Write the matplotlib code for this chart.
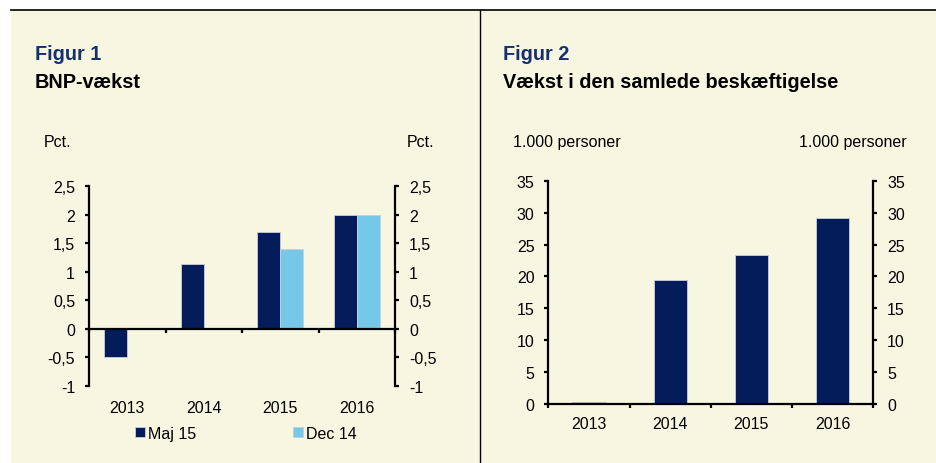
import numpy as np
import matplotlib
matplotlib.use("Agg")
from matplotlib import pyplot as plt
from matplotlib.patches import Rectangle
from matplotlib.lines import Line2D
from matplotlib.ticker import FuncFormatter, FixedLocator

# Data
years = ["2013", "2014", "2015", "2016"]
bnp_maj15 = [-0.49, 1.14, 1.7, 2.0]
bnp_dec14 = [np.nan, np.nan, 1.4, 2.0]
emp_growth = [0.35, 19.5, 23.35, 29.15]

# Style
cream = "#F7F7E1"
navy = "#041C5A"
light_blue = "#75C8E7"
title_blue = "#16306E"
edge = "#C9CEDC"

plt.rcParams["font.family"] = ["Liberation Sans", "DejaVu Sans"]
FS = 11.5
TFS = 14.3
plt.rcParams["font.size"] = FS

fig = plt.figure(figsize=(9.36, 4.64), dpi=100)
fig.patch.set_facecolor("white")

W, H = 936.0, 464.0
# cream panel, top rule, divider
fig.patches.append(Rectangle((11 / W, 0), 1 - 11 / W, 1 - 11 / H, transform=fig.transFigure,
                             facecolor=cream, edgecolor="none", zorder=-5))
fig.lines.append(Line2D([11 / W, 1], [1 - 11 / H, 1 - 11 / H], transform=fig.transFigure,
                        color="black", lw=1.2))
fig.lines.append(Line2D([480 / W, 480 / W], [0, 1 - 11 / H], transform=fig.transFigure,
                        color="black", lw=1.0))


def comma_fmt(v, pos):
    s = "{:g}".format(round(v, 2))
    return s.replace(".", ",")


def style_axis(ax, ymin, ymax, ystep, xpad):
    ax.set_facecolor("none")
    ax.set_ylim(ymin, ymax)
    ax.set_yticks(np.arange(ymin, ymax + ystep / 2, ystep))
    ax.set_xlim(-0.5, len(years) - 0.5)
    for s in ["left", "right", "bottom"]:
        ax.spines[s].set_linewidth(1.6)
    ax.spines["top"].set_visible(False)
    ax.tick_params(axis="y", which="both", left=True, right=True, labelleft=True,
                   labelright=True, direction="out", length=3, width=1.6, pad=7)
    ax.xaxis.set_major_locator(FixedLocator(np.arange(-0.5, len(years), 1.0)))
    ax.tick_params(axis="x", direction="out", length=3, width=1.6, labelbottom=False)
    sec = ax.secondary_xaxis("bottom")
    sec.set_xticks(np.arange(len(years)))
    sec.set_xticklabels(years)
    sec.tick_params(length=0, pad=xpad)
    sec.spines["bottom"].set_visible(False)


# Figure 1
ax1 = fig.add_axes([89 / W, 1 - 387 / H, 306 / W, 200 / H])
x = np.arange(len(years))
bw = 0.3
ax1.bar(x - bw / 2, bnp_maj15, bw, color=navy, edgecolor=edge, linewidth=0.6, label="Maj 15")
ax1.bar(x + bw / 2, bnp_dec14, bw, color=light_blue, edgecolor=edge, linewidth=0.6, label="Dec 14")
style_axis(ax1, -1, 2.5, 0.5, 10)
ax1.spines["bottom"].set_position(("data", 0))
ax1.yaxis.set_major_formatter(FuncFormatter(comma_fmt))
leg = ax1.legend(loc="center", bbox_to_anchor=(0.513, -0.237), ncol=2, frameon=False,
                 handlelength=0.6, handleheight=0.6, handletextpad=0.2, columnspacing=6.1,
                 fontsize=FS)

fig.text(35 / W, 1 - 60 / H, "Figur 1", color=title_blue, fontsize=TFS, fontweight="bold", va="baseline")
fig.text(35 / W, 1 - 88 / H, "BNP-vækst", color="black", fontsize=TFS, fontweight="bold", va="baseline")
fig.text(44 / W, 1 - 147 / H, "Pct.", va="baseline")
fig.text(407 / W, 1 - 147 / H, "Pct.", va="baseline")

# Figure 2
ax2 = fig.add_axes([548.3 / W, 1 - 405 / H, 325 / W, 223.3 / H])
ax2.bar(x, emp_growth, 0.41, color=navy, edgecolor=edge, linewidth=0.6)
style_axis(ax2, 0, 35, 5, 9)

fig.text(503 / W, 1 - 60 / H, "Figur 2", color=title_blue, fontsize=TFS, fontweight="bold", va="baseline")
fig.text(503 / W, 1 - 88 / H, "Vækst i den samlede beskæftigelse", color="black", fontsize=TFS,
         fontweight="bold", va="baseline")
fig.text(513 / W, 1 - 147 / H, "1.000 personer", va="baseline")
fig.text(907 / W, 1 - 147 / H, "1.000 personer", va="baseline", ha="right")

fig.savefig("out.png", dpi=100, facecolor=fig.get_facecolor())
